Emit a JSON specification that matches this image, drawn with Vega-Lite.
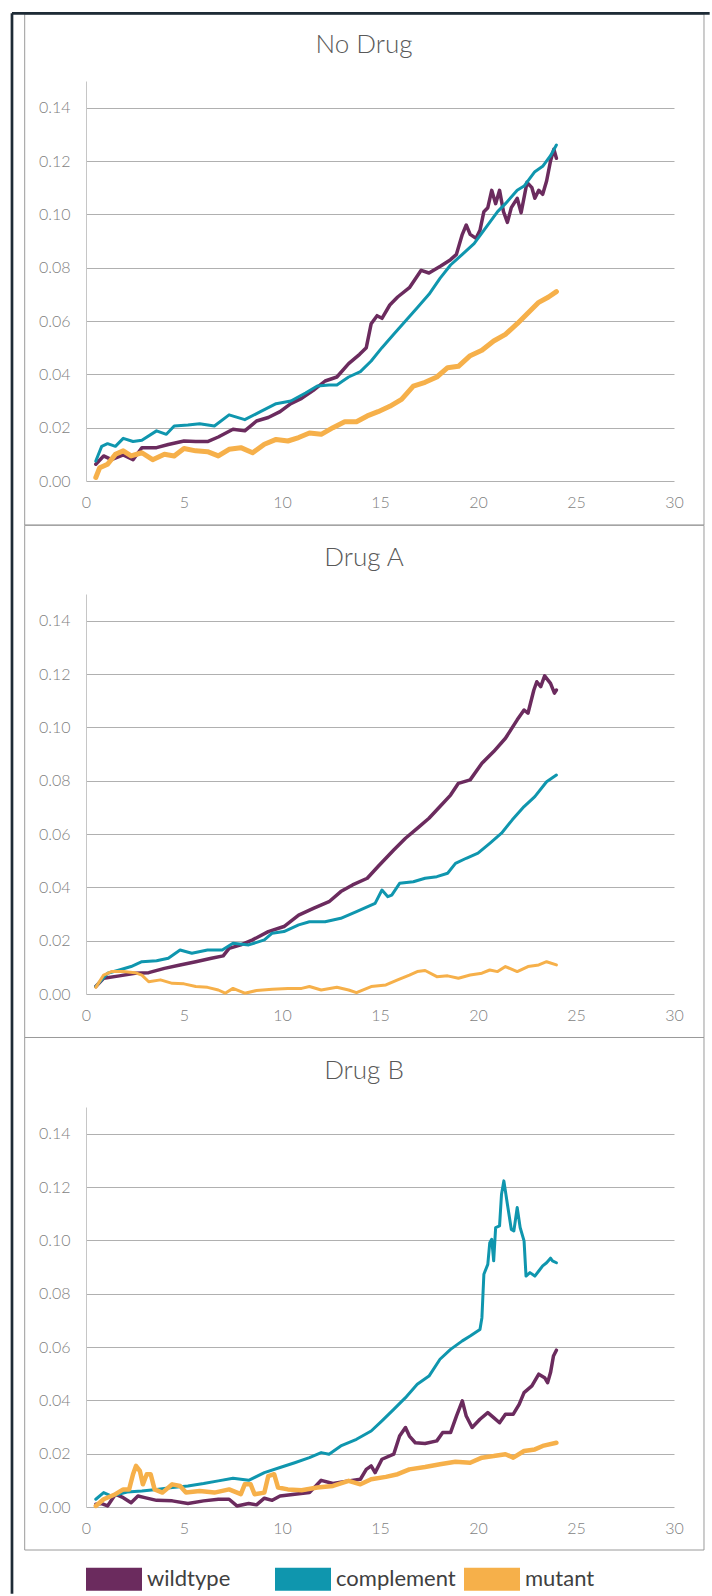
{
  "$schema": "https://vega.github.io/schema/vega-lite/v6.json",
  "background": "white",
  "padding": {"left": 10, "top": 11, "right": 0, "bottom": 0},
  "autosize": {"type": "pad"},
  "bounds": "flush",
  "spacing": 113,
  "resolve": {"scale": {"color": "shared"}, "legend": {"color": "shared"}},
  "config": {
    "view": {"stroke": null},
    "font": "Lato",
    "axis": {"labelFont": "Lato", "labelFontSize": 16, "labelColor": "#7f7f7f", "labelFontWeight": 300, "ticks": false},
    "axisX": {"grid": false, "domain": false, "labelPadding": 21, "labelBaseline": "middle", "labelFlush": false},
    "axisY": {"grid": true, "gridColor": "#b0b0b0", "gridWidth": 1, "domain": true, "domainColor": "#c6c6c6", "labelPadding": 16},
    "title": {"font": "Lato", "fontSize": 26, "fontWeight": 300, "color": "#595959", "anchor": "middle", "frame": "group", "baseline": "alphabetic", "dx": -16}
  },
  "datasets": {
    "nodrug": [
      {"s":"wildtype","t":0.5,"v":0.0063},{"s":"wildtype","t":0.9,"v":0.0094},{"s":"wildtype","t":1.3,"v":0.008},{"s":"wildtype","t":1.9,"v":0.0098},{"s":"wildtype","t":2.4,"v":0.008},{"s":"wildtype","t":2.85,"v":0.0125},{"s":"wildtype","t":3.6,"v":0.0125},{"s":"wildtype","t":4.2,"v":0.0137},{"s":"wildtype","t":5.0,"v":0.015},{"s":"wildtype","t":5.6,"v":0.0148},{"s":"wildtype","t":6.2,"v":0.0148},{"s":"wildtype","t":6.75,"v":0.0165},{"s":"wildtype","t":7.5,"v":0.0194},{"s":"wildtype","t":8.1,"v":0.0188},{"s":"wildtype","t":8.7,"v":0.0225},{"s":"wildtype","t":9.3,"v":0.0238},{"s":"wildtype","t":9.9,"v":0.026},{"s":"wildtype","t":10.45,"v":0.029},{"s":"wildtype","t":11.0,"v":0.031},{"s":"wildtype","t":11.6,"v":0.034},{"s":"wildtype","t":12.2,"v":0.0375},{"s":"wildtype","t":12.8,"v":0.039},{"s":"wildtype","t":13.4,"v":0.044},{"s":"wildtype","t":13.96,"v":0.0475},{"s":"wildtype","t":14.3,"v":0.05},{"s":"wildtype","t":14.55,"v":0.059},{"s":"wildtype","t":14.85,"v":0.062},{"s":"wildtype","t":15.1,"v":0.061},{"s":"wildtype","t":15.5,"v":0.066},{"s":"wildtype","t":15.9,"v":0.069},{"s":"wildtype","t":16.5,"v":0.0725},{"s":"wildtype","t":17.1,"v":0.079},{"s":"wildtype","t":17.5,"v":0.078},{"s":"wildtype","t":18.1,"v":0.0806},{"s":"wildtype","t":18.6,"v":0.083},{"s":"wildtype","t":18.9,"v":0.085},{"s":"wildtype","t":19.2,"v":0.0925},{"s":"wildtype","t":19.4,"v":0.096},{"s":"wildtype","t":19.6,"v":0.0925},{"s":"wildtype","t":19.9,"v":0.091},{"s":"wildtype","t":20.1,"v":0.094},{"s":"wildtype","t":20.3,"v":0.101},{"s":"wildtype","t":20.5,"v":0.1025},{"s":"wildtype","t":20.7,"v":0.109},{"s":"wildtype","t":20.9,"v":0.104},{"s":"wildtype","t":21.1,"v":0.109},{"s":"wildtype","t":21.3,"v":0.101},{"s":"wildtype","t":21.5,"v":0.097},{"s":"wildtype","t":21.7,"v":0.1025},{"s":"wildtype","t":22.0,"v":0.106},{"s":"wildtype","t":22.2,"v":0.1006},{"s":"wildtype","t":22.5,"v":0.112},{"s":"wildtype","t":22.75,"v":0.11},{"s":"wildtype","t":22.9,"v":0.106},{"s":"wildtype","t":23.1,"v":0.109},{"s":"wildtype","t":23.3,"v":0.1075},{"s":"wildtype","t":23.5,"v":0.1125},{"s":"wildtype","t":23.7,"v":0.12},{"s":"wildtype","t":23.87,"v":0.1244},{"s":"wildtype","t":24.0,"v":0.121},
      {"s":"complement","t":0.5,"v":0.0075},{"s":"complement","t":0.8,"v":0.013},{"s":"complement","t":1.1,"v":0.014},{"s":"complement","t":1.5,"v":0.013},{"s":"complement","t":1.9,"v":0.016},{"s":"complement","t":2.4,"v":0.0148},{"s":"complement","t":2.85,"v":0.0153},{"s":"complement","t":3.6,"v":0.0188},{"s":"complement","t":4.1,"v":0.0175},{"s":"complement","t":4.5,"v":0.0206},{"s":"complement","t":5.2,"v":0.021},{"s":"complement","t":5.8,"v":0.0215},{"s":"complement","t":6.55,"v":0.0206},{"s":"complement","t":7.3,"v":0.0248},{"s":"complement","t":8.1,"v":0.023},{"s":"complement","t":8.9,"v":0.026},{"s":"complement","t":9.7,"v":0.029},{"s":"complement","t":10.45,"v":0.03},{"s":"complement","t":11.2,"v":0.033},{"s":"complement","t":11.8,"v":0.0356},{"s":"complement","t":12.4,"v":0.036},{"s":"complement","t":12.8,"v":0.036},{"s":"complement","t":13.4,"v":0.039},{"s":"complement","t":14.0,"v":0.041},{"s":"complement","t":14.55,"v":0.045},{"s":"complement","t":15.1,"v":0.05},{"s":"complement","t":15.7,"v":0.055},{"s":"complement","t":16.3,"v":0.06},{"s":"complement","t":16.9,"v":0.065},{"s":"complement","t":17.5,"v":0.07},{"s":"complement","t":18.06,"v":0.076},{"s":"complement","t":18.6,"v":0.081},{"s":"complement","t":19.2,"v":0.085},{"s":"complement","t":19.8,"v":0.089},{"s":"complement","t":20.4,"v":0.095},{"s":"complement","t":21.0,"v":0.101},{"s":"complement","t":21.4,"v":0.104},{"s":"complement","t":22.0,"v":0.109},{"s":"complement","t":22.35,"v":0.1106},{"s":"complement","t":22.9,"v":0.116},{"s":"complement","t":23.3,"v":0.118},{"s":"complement","t":23.7,"v":0.122},{"s":"complement","t":24.0,"v":0.126},
      {"s":"mutant","t":0.5,"v":0.0013},{"s":"mutant","t":0.7,"v":0.005},{"s":"mutant","t":1.1,"v":0.0063},{"s":"mutant","t":1.5,"v":0.01},{"s":"mutant","t":1.9,"v":0.0113},{"s":"mutant","t":2.3,"v":0.0094},{"s":"mutant","t":2.85,"v":0.0106},{"s":"mutant","t":3.4,"v":0.008},{"s":"mutant","t":4.0,"v":0.01},{"s":"mutant","t":4.5,"v":0.0094},{"s":"mutant","t":5.0,"v":0.0122},{"s":"mutant","t":5.6,"v":0.0113},{"s":"mutant","t":6.2,"v":0.011},{"s":"mutant","t":6.75,"v":0.0094},{"s":"mutant","t":7.3,"v":0.0119},{"s":"mutant","t":7.9,"v":0.0125},{"s":"mutant","t":8.5,"v":0.0106},{"s":"mutant","t":9.1,"v":0.0138},{"s":"mutant","t":9.7,"v":0.0156},{"s":"mutant","t":10.3,"v":0.015},{"s":"mutant","t":10.85,"v":0.0163},{"s":"mutant","t":11.4,"v":0.018},{"s":"mutant","t":12.0,"v":0.0175},{"s":"mutant","t":12.6,"v":0.02},{"s":"mutant","t":13.2,"v":0.0222},{"s":"mutant","t":13.8,"v":0.0222},{"s":"mutant","t":14.35,"v":0.0244},{"s":"mutant","t":14.9,"v":0.026},{"s":"mutant","t":15.5,"v":0.028},{"s":"mutant","t":16.1,"v":0.0306},{"s":"mutant","t":16.7,"v":0.0356},{"s":"mutant","t":17.3,"v":0.037},{"s":"mutant","t":17.9,"v":0.039},{"s":"mutant","t":18.45,"v":0.0425},{"s":"mutant","t":19.0,"v":0.043},{"s":"mutant","t":19.6,"v":0.047},{"s":"mutant","t":20.2,"v":0.049},{"s":"mutant","t":20.8,"v":0.0525},{"s":"mutant","t":21.4,"v":0.055},{"s":"mutant","t":22.0,"v":0.059},{"s":"mutant","t":22.55,"v":0.063},{"s":"mutant","t":23.1,"v":0.067},{"s":"mutant","t":23.6,"v":0.069},{"s":"mutant","t":24.0,"v":0.071}
    ],
    "druga": [
      {"s":"wildtype","t":0.5,"v":0.0028},{"s":"wildtype","t":0.9,"v":0.0059},{"s":"wildtype","t":1.7,"v":0.0068},{"s":"wildtype","t":2.5,"v":0.0078},{"s":"wildtype","t":3.2,"v":0.008},{"s":"wildtype","t":4.0,"v":0.0096},{"s":"wildtype","t":4.8,"v":0.0109},{"s":"wildtype","t":5.6,"v":0.0121},{"s":"wildtype","t":6.4,"v":0.0134},{"s":"wildtype","t":7.0,"v":0.0143},{"s":"wildtype","t":7.3,"v":0.0171},{"s":"wildtype","t":7.9,"v":0.0184},{"s":"wildtype","t":8.5,"v":0.0203},{"s":"wildtype","t":9.3,"v":0.0234},{"s":"wildtype","t":10.1,"v":0.0253},{"s":"wildtype","t":10.85,"v":0.0296},{"s":"wildtype","t":11.6,"v":0.0321},{"s":"wildtype","t":12.4,"v":0.0346},{"s":"wildtype","t":13.0,"v":0.0384},{"s":"wildtype","t":13.6,"v":0.0409},{"s":"wildtype","t":14.35,"v":0.0434},{"s":"wildtype","t":14.9,"v":0.0478},{"s":"wildtype","t":15.7,"v":0.054},{"s":"wildtype","t":16.3,"v":0.0584},{"s":"wildtype","t":16.9,"v":0.0621},{"s":"wildtype","t":17.5,"v":0.0659},{"s":"wildtype","t":18.06,"v":0.0703},{"s":"wildtype","t":18.6,"v":0.0746},{"s":"wildtype","t":19.0,"v":0.079},{"s":"wildtype","t":19.6,"v":0.0803},{"s":"wildtype","t":20.2,"v":0.0865},{"s":"wildtype","t":20.8,"v":0.0909},{"s":"wildtype","t":21.4,"v":0.0959},{"s":"wildtype","t":22.0,"v":0.1028},{"s":"wildtype","t":22.35,"v":0.1065},{"s":"wildtype","t":22.55,"v":0.1053},{"s":"wildtype","t":22.85,"v":0.114},{"s":"wildtype","t":23.0,"v":0.1171},{"s":"wildtype","t":23.2,"v":0.1153},{"s":"wildtype","t":23.4,"v":0.1193},{"s":"wildtype","t":23.7,"v":0.1165},{"s":"wildtype","t":23.9,"v":0.1128},{"s":"wildtype","t":24.0,"v":0.114},
      {"s":"complement","t":0.5,"v":0.0028},{"s":"complement","t":1.1,"v":0.0078},{"s":"complement","t":1.7,"v":0.009},{"s":"complement","t":2.3,"v":0.0103},{"s":"complement","t":2.85,"v":0.0121},{"s":"complement","t":3.6,"v":0.0125},{"s":"complement","t":4.2,"v":0.0134},{"s":"complement","t":4.8,"v":0.0165},{"s":"complement","t":5.4,"v":0.0153},{"s":"complement","t":6.2,"v":0.0165},{"s":"complement","t":6.95,"v":0.0165},{"s":"complement","t":7.5,"v":0.019},{"s":"complement","t":8.3,"v":0.0184},{"s":"complement","t":9.1,"v":0.0203},{"s":"complement","t":9.5,"v":0.0228},{"s":"complement","t":10.1,"v":0.0234},{"s":"complement","t":10.85,"v":0.0259},{"s":"complement","t":11.4,"v":0.0271},{"s":"complement","t":12.2,"v":0.0271},{"s":"complement","t":13.0,"v":0.0284},{"s":"complement","t":13.8,"v":0.0309},{"s":"complement","t":14.75,"v":0.034},{"s":"complement","t":15.1,"v":0.039},{"s":"complement","t":15.4,"v":0.0365},{"s":"complement","t":15.6,"v":0.0371},{"s":"complement","t":16.0,"v":0.0415},{"s":"complement","t":16.7,"v":0.0421},{"s":"complement","t":17.3,"v":0.0434},{"s":"complement","t":17.9,"v":0.044},{"s":"complement","t":18.45,"v":0.0453},{"s":"complement","t":18.85,"v":0.049},{"s":"complement","t":19.4,"v":0.0509},{"s":"complement","t":20.0,"v":0.0528},{"s":"complement","t":20.6,"v":0.0565},{"s":"complement","t":21.2,"v":0.0603},{"s":"complement","t":21.75,"v":0.0653},{"s":"complement","t":22.35,"v":0.0703},{"s":"complement","t":22.9,"v":0.074},{"s":"complement","t":23.5,"v":0.0796},{"s":"complement","t":24.0,"v":0.0821},
      {"s":"mutant","t":0.5,"v":0.0025},{"s":"mutant","t":0.9,"v":0.0071},{"s":"mutant","t":1.3,"v":0.0084},{"s":"mutant","t":1.9,"v":0.0084},{"s":"mutant","t":2.5,"v":0.008},{"s":"mutant","t":2.85,"v":0.0071},{"s":"mutant","t":3.2,"v":0.0046},{"s":"mutant","t":3.8,"v":0.0053},{"s":"mutant","t":4.4,"v":0.004},{"s":"mutant","t":5.0,"v":0.0038},{"s":"mutant","t":5.6,"v":0.0028},{"s":"mutant","t":6.2,"v":0.0025},{"s":"mutant","t":6.75,"v":0.0015},{"s":"mutant","t":7.1,"v":0.0003},{"s":"mutant","t":7.5,"v":0.0021},{"s":"mutant","t":8.1,"v":0.0003},{"s":"mutant","t":8.7,"v":0.0013},{"s":"mutant","t":9.5,"v":0.0018},{"s":"mutant","t":10.3,"v":0.0021},{"s":"mutant","t":11.0,"v":0.0021},{"s":"mutant","t":11.4,"v":0.0028},{"s":"mutant","t":12.0,"v":0.0015},{"s":"mutant","t":12.8,"v":0.0025},{"s":"mutant","t":13.4,"v":0.0015},{"s":"mutant","t":13.8,"v":0.0005},{"s":"mutant","t":14.55,"v":0.0028},{"s":"mutant","t":15.3,"v":0.0034},{"s":"mutant","t":15.9,"v":0.0053},{"s":"mutant","t":16.5,"v":0.0071},{"s":"mutant","t":16.9,"v":0.0084},{"s":"mutant","t":17.3,"v":0.0088},{"s":"mutant","t":17.9,"v":0.0065},{"s":"mutant","t":18.45,"v":0.0068},{"s":"mutant","t":19.0,"v":0.0059},{"s":"mutant","t":19.6,"v":0.0071},{"s":"mutant","t":20.2,"v":0.0078},{"s":"mutant","t":20.6,"v":0.009},{"s":"mutant","t":21.0,"v":0.0084},{"s":"mutant","t":21.4,"v":0.0103},{"s":"mutant","t":22.0,"v":0.0084},{"s":"mutant","t":22.55,"v":0.0103},{"s":"mutant","t":23.1,"v":0.0109},{"s":"mutant","t":23.5,"v":0.0121},{"s":"mutant","t":24.0,"v":0.0109}
    ],
    "drugb": [
      {"s":"wildtype","t":0.5,"v":0.001},{"s":"wildtype","t":0.8,"v":0.0013},{"s":"wildtype","t":1.1,"v":0.0004},{"s":"wildtype","t":1.5,"v":0.0048},{"s":"wildtype","t":1.9,"v":0.0035},{"s":"wildtype","t":2.3,"v":0.0016},{"s":"wildtype","t":2.65,"v":0.0041},{"s":"wildtype","t":3.0,"v":0.0035},{"s":"wildtype","t":3.6,"v":0.0025},{"s":"wildtype","t":4.4,"v":0.0023},{"s":"wildtype","t":5.2,"v":0.0013},{"s":"wildtype","t":6.0,"v":0.0023},{"s":"wildtype","t":6.75,"v":0.0029},{"s":"wildtype","t":7.3,"v":0.0029},{"s":"wildtype","t":7.7,"v":0.0004},{"s":"wildtype","t":8.3,"v":0.0013},{"s":"wildtype","t":8.7,"v":0.0008},{"s":"wildtype","t":9.1,"v":0.0033},{"s":"wildtype","t":9.5,"v":0.0025},{"s":"wildtype","t":9.9,"v":0.0041},{"s":"wildtype","t":10.65,"v":0.0048},{"s":"wildtype","t":11.4,"v":0.0054},{"s":"wildtype","t":12.0,"v":0.01},{"s":"wildtype","t":12.6,"v":0.0088},{"s":"wildtype","t":13.4,"v":0.0098},{"s":"wildtype","t":14.0,"v":0.0104},{"s":"wildtype","t":14.3,"v":0.0141},{"s":"wildtype","t":14.55,"v":0.0154},{"s":"wildtype","t":14.75,"v":0.0129},{"s":"wildtype","t":15.1,"v":0.0179},{"s":"wildtype","t":15.7,"v":0.0198},{"s":"wildtype","t":16.0,"v":0.0266},{"s":"wildtype","t":16.3,"v":0.0298},{"s":"wildtype","t":16.5,"v":0.0266},{"s":"wildtype","t":16.8,"v":0.0241},{"s":"wildtype","t":17.3,"v":0.0238},{"s":"wildtype","t":17.9,"v":0.0248},{"s":"wildtype","t":18.2,"v":0.0279},{"s":"wildtype","t":18.6,"v":0.0279},{"s":"wildtype","t":18.9,"v":0.0341},{"s":"wildtype","t":19.2,"v":0.0398},{"s":"wildtype","t":19.4,"v":0.0341},{"s":"wildtype","t":19.7,"v":0.0298},{"s":"wildtype","t":20.1,"v":0.0329},{"s":"wildtype","t":20.5,"v":0.0354},{"s":"wildtype","t":20.8,"v":0.0335},{"s":"wildtype","t":21.1,"v":0.0316},{"s":"wildtype","t":21.4,"v":0.0348},{"s":"wildtype","t":21.8,"v":0.0348},{"s":"wildtype","t":22.1,"v":0.0385},{"s":"wildtype","t":22.35,"v":0.0429},{"s":"wildtype","t":22.75,"v":0.0454},{"s":"wildtype","t":23.1,"v":0.0498},{"s":"wildtype","t":23.4,"v":0.0485},{"s":"wildtype","t":23.55,"v":0.0466},{"s":"wildtype","t":23.7,"v":0.0504},{"s":"wildtype","t":23.85,"v":0.0566},{"s":"wildtype","t":24.0,"v":0.0588},
      {"s":"complement","t":0.5,"v":0.0029},{"s":"complement","t":0.9,"v":0.0054},{"s":"complement","t":1.3,"v":0.0041},{"s":"complement","t":2.1,"v":0.0056},{"s":"complement","t":2.85,"v":0.006},{"s":"complement","t":3.6,"v":0.0066},{"s":"complement","t":4.4,"v":0.0073},{"s":"complement","t":5.2,"v":0.0079},{"s":"complement","t":6.0,"v":0.0088},{"s":"complement","t":6.75,"v":0.0098},{"s":"complement","t":7.5,"v":0.0108},{"s":"complement","t":8.3,"v":0.01},{"s":"complement","t":9.1,"v":0.0129},{"s":"complement","t":9.9,"v":0.0148},{"s":"complement","t":10.65,"v":0.0166},{"s":"complement","t":11.4,"v":0.0185},{"s":"complement","t":12.0,"v":0.0204},{"s":"complement","t":12.4,"v":0.0198},{"s":"complement","t":13.0,"v":0.0229},{"s":"complement","t":13.8,"v":0.0254},{"s":"complement","t":14.55,"v":0.0285},{"s":"complement","t":15.1,"v":0.0323},{"s":"complement","t":15.7,"v":0.0366},{"s":"complement","t":16.3,"v":0.041},{"s":"complement","t":16.9,"v":0.046},{"s":"complement","t":17.5,"v":0.0491},{"s":"complement","t":18.06,"v":0.0554},{"s":"complement","t":18.6,"v":0.0591},{"s":"complement","t":19.2,"v":0.0623},{"s":"complement","t":19.6,"v":0.0641},{"s":"complement","t":20.1,"v":0.0666},{"s":"complement","t":20.2,"v":0.071},{"s":"complement","t":20.3,"v":0.0873},{"s":"complement","t":20.5,"v":0.091},{"s":"complement","t":20.6,"v":0.0991},{"s":"complement","t":20.7,"v":0.1004},{"s":"complement","t":20.8,"v":0.0923},{"s":"complement","t":20.9,"v":0.1048},{"s":"complement","t":21.1,"v":0.1054},{"s":"complement","t":21.2,"v":0.1173},{"s":"complement","t":21.32,"v":0.1223},{"s":"complement","t":21.5,"v":0.1135},{"s":"complement","t":21.7,"v":0.1041},{"s":"complement","t":21.83,"v":0.1035},{"s":"complement","t":22.0,"v":0.1123},{"s":"complement","t":22.15,"v":0.1048},{"s":"complement","t":22.35,"v":0.0998},{"s":"complement","t":22.45,"v":0.0866},{"s":"complement","t":22.65,"v":0.0879},{"s":"complement","t":22.9,"v":0.0866},{"s":"complement","t":23.1,"v":0.0885},{"s":"complement","t":23.3,"v":0.0904},{"s":"complement","t":23.5,"v":0.0916},{"s":"complement","t":23.7,"v":0.0933},{"s":"complement","t":23.8,"v":0.0923},{"s":"complement","t":24.0,"v":0.0916},
      {"s":"mutant","t":0.5,"v":0.0004},{"s":"mutant","t":0.9,"v":0.0029},{"s":"mutant","t":1.5,"v":0.0048},{"s":"mutant","t":1.9,"v":0.0066},{"s":"mutant","t":2.2,"v":0.0066},{"s":"mutant","t":2.4,"v":0.0123},{"s":"mutant","t":2.55,"v":0.0154},{"s":"mutant","t":2.75,"v":0.0135},{"s":"mutant","t":2.9,"v":0.0085},{"s":"mutant","t":3.1,"v":0.0123},{"s":"mutant","t":3.3,"v":0.0123},{"s":"mutant","t":3.5,"v":0.0066},{"s":"mutant","t":3.9,"v":0.0054},{"s":"mutant","t":4.4,"v":0.0085},{"s":"mutant","t":4.8,"v":0.0079},{"s":"mutant","t":5.1,"v":0.0054},{"s":"mutant","t":5.8,"v":0.006},{"s":"mutant","t":6.55,"v":0.0054},{"s":"mutant","t":7.3,"v":0.0066},{"s":"mutant","t":7.9,"v":0.0048},{"s":"mutant","t":8.1,"v":0.0085},{"s":"mutant","t":8.4,"v":0.0085},{"s":"mutant","t":8.6,"v":0.0048},{"s":"mutant","t":9.1,"v":0.0054},{"s":"mutant","t":9.3,"v":0.0116},{"s":"mutant","t":9.6,"v":0.0123},{"s":"mutant","t":9.8,"v":0.0073},{"s":"mutant","t":10.3,"v":0.0066},{"s":"mutant","t":11.0,"v":0.0063},{"s":"mutant","t":11.8,"v":0.0073},{"s":"mutant","t":12.6,"v":0.0079},{"s":"mutant","t":13.4,"v":0.0098},{"s":"mutant","t":14.0,"v":0.0085},{"s":"mutant","t":14.55,"v":0.0104},{"s":"mutant","t":15.3,"v":0.0113},{"s":"mutant","t":15.9,"v":0.0123},{"s":"mutant","t":16.5,"v":0.0141},{"s":"mutant","t":17.3,"v":0.015},{"s":"mutant","t":18.06,"v":0.016},{"s":"mutant","t":18.85,"v":0.017},{"s":"mutant","t":19.6,"v":0.0166},{"s":"mutant","t":20.2,"v":0.0185},{"s":"mutant","t":20.8,"v":0.0191},{"s":"mutant","t":21.4,"v":0.0198},{"s":"mutant","t":21.8,"v":0.0185},{"s":"mutant","t":22.35,"v":0.021},{"s":"mutant","t":22.9,"v":0.0216},{"s":"mutant","t":23.3,"v":0.0229},{"s":"mutant","t":24.0,"v":0.0241}
    ]
  },
  "vconcat": [
    {
      "title": {"text": "No Drug", "offset": -46},
      "width": 588, "height": 400,
      "data": {"name": "nodrug"},
      "encoding": {
        "x": {"field": "t", "type": "quantitative", "scale": {"domain": [0, 30], "nice": false}, "axis": {"title": null, "values": [0, 5, 10, 15, 20, 25, 30]}},
        "y": {"field": "v", "type": "quantitative", "scale": {"domain": [0, 0.15], "nice": false}, "axis": {"title": null, "values": [0, 0.02, 0.04, 0.06, 0.08, 0.1, 0.12, 0.14], "format": ".2f"}},
        "color": {"field": "s", "type": "nominal", "scale": {"domain": ["wildtype", "complement", "mutant"], "range": ["#6b2b5e", "#0f96ae", "#f6b04a"]},
          "legend": {"orient": "none", "legendX": 0, "legendY": 1484, "direction": "horizontal", "title": null, "padding": 0, "symbolType": "M-1,-0.82L3,-0.82L3,0.82L-1,0.82Z", "symbolSize": 784, "symbolStrokeWidth": 0, "symbolOpacity": 1, "labelFont": "Lato", "labelFontSize": 22, "labelFontWeight": 400, "labelColor": "#404040", "labelOffset": 33, "columnPadding": 8, "gridAlign": "all",
            "encode": {"symbols": {"update": {"fill": {"scale": "color", "field": "value"}, "strokeWidth": {"value": 0}, "opacity": {"value": 1}}}}}}
      },
      "layer": [
        {"transform": [{"filter": "datum.s === 'wildtype' && datum.t === 0.5"}], "mark": {"type": "rect", "fill": null, "stroke": "#9a9a9a", "strokeWidth": 1}, "encoding": {"x": {"datum": -3.128, "type": "quantitative", "scale": {"domain": [0, 30], "nice": false}, "axis": {"title": null, "values": [0, 5, 10, 15, 20, 25, 30]}}, "x2": {"datum": 31.53}, "y": {"datum": 0.17513, "type": "quantitative", "scale": {"domain": [0, 0.15], "nice": false}, "axis": {"title": null, "values": [0, 0.02, 0.04, 0.06, 0.08, 0.1, 0.12, 0.14], "format": ".2f"}}, "y2": {"datum": -0.0165}, "color": {"value": null}}},
        {"transform": [{"filter": "datum.s === 'wildtype' && datum.t === 0.5"}], "mark": {"type": "rule", "stroke": "#1e2b36", "strokeWidth": 2.7}, "encoding": {"x": {"datum": -3.776, "type": "quantitative", "scale": {"domain": [0, 30], "nice": false}, "axis": {"title": null, "values": [0, 5, 10, 15, 20, 25, 30]}}, "y": {"datum": 0.17539, "type": "quantitative", "scale": {"domain": [0, 0.15], "nice": false}, "axis": {"title": null, "values": [0, 0.02, 0.04, 0.06, 0.08, 0.1, 0.12, 0.14], "format": ".2f"}}, "y2": {"datum": -0.41726}, "color": {"value": "#1e2b36"}}},
        {"transform": [{"filter": "datum.s === 'wildtype' && datum.t === 0.5"}], "mark": {"type": "rule", "stroke": "#1e2b36", "strokeWidth": 2.7}, "encoding": {"x": {"datum": -3.776, "type": "quantitative", "scale": {"domain": [0, 30], "nice": false}, "axis": {"title": null, "values": [0, 5, 10, 15, 20, 25, 30]}}, "x2": {"datum": 31.82}, "y": {"datum": 0.17539, "type": "quantitative", "scale": {"domain": [0, 0.15], "nice": false}, "axis": {"title": null, "values": [0, 0.02, 0.04, 0.06, 0.08, 0.1, 0.12, 0.14], "format": ".2f"}}, "color": {"value": "#1e2b36"}}},
        {"transform": [{"filter": "datum.s === 'wildtype'"}], "mark": {"type": "line", "strokeWidth": 3.5, "strokeJoin": "round", "strokeCap": "round"}},
        {"transform": [{"filter": "datum.s === 'complement'"}], "mark": {"type": "line", "strokeWidth": 3, "strokeJoin": "round", "strokeCap": "round"}},
        {"transform": [{"filter": "datum.s === 'mutant'"}], "mark": {"type": "line", "strokeWidth": 5, "strokeJoin": "round", "strokeCap": "round"}}
      ]
    },
    {
      "title": {"text": "Drug A", "offset": -46.2},
      "width": 588, "height": 400,
      "data": {"name": "druga"},
      "encoding": {
        "x": {"field": "t", "type": "quantitative", "scale": {"domain": [0, 30], "nice": false}, "axis": {"title": null, "values": [0, 5, 10, 15, 20, 25, 30]}},
        "y": {"field": "v", "type": "quantitative", "scale": {"domain": [0, 0.15], "nice": false}, "axis": {"title": null, "values": [0, 0.02, 0.04, 0.06, 0.08, 0.1, 0.12, 0.14], "format": ".2f"}},
        "color": {"field": "s", "type": "nominal", "scale": {"domain": ["wildtype", "complement", "mutant"], "range": ["#6b2b5e", "#0f96ae", "#f6b04a"]},
          "legend": {"orient": "none", "legendX": 0, "legendY": 1484, "direction": "horizontal", "title": null, "padding": 0, "symbolType": "M-1,-0.82L3,-0.82L3,0.82L-1,0.82Z", "symbolSize": 784, "symbolStrokeWidth": 0, "symbolOpacity": 1, "labelFont": "Lato", "labelFontSize": 22, "labelFontWeight": 400, "labelColor": "#404040", "labelOffset": 33, "columnPadding": 8, "gridAlign": "all",
            "encode": {"symbols": {"update": {"fill": {"scale": "color", "field": "value"}, "strokeWidth": {"value": 0}, "opacity": {"value": 1}}}}}}
      },
      "layer": [
        {"transform": [{"filter": "datum.s === 'wildtype' && datum.t === 0.5"}], "mark": {"type": "rect", "fill": null, "stroke": "#9a9a9a", "strokeWidth": 1}, "encoding": {"x": {"datum": -3.128, "type": "quantitative", "scale": {"domain": [0, 30], "nice": false}, "axis": {"title": null, "values": [0, 5, 10, 15, 20, 25, 30]}}, "x2": {"datum": 31.53}, "y": {"datum": 0.17576, "type": "quantitative", "scale": {"domain": [0, 0.15], "nice": false}, "axis": {"title": null, "values": [0, 0.02, 0.04, 0.06, 0.08, 0.1, 0.12, 0.14], "format": ".2f"}}, "y2": {"datum": -0.01631}, "color": {"value": null}}},
        {"transform": [{"filter": "datum.s === 'wildtype'"}], "mark": {"type": "line", "strokeWidth": 3.5, "strokeJoin": "round", "strokeCap": "round"}},
        {"transform": [{"filter": "datum.s === 'complement'"}], "mark": {"type": "line", "strokeWidth": 3, "strokeJoin": "round", "strokeCap": "round"}},
        {"transform": [{"filter": "datum.s === 'mutant'"}], "mark": {"type": "line", "strokeWidth": 3, "strokeJoin": "round", "strokeCap": "round"}}
      ]
    },
    {
      "title": {"text": "Drug B", "offset": -47},
      "width": 588, "height": 400,
      "data": {"name": "drugb"},
      "encoding": {
        "x": {"field": "t", "type": "quantitative", "scale": {"domain": [0, 30], "nice": false}, "axis": {"title": null, "values": [0, 5, 10, 15, 20, 25, 30]}},
        "y": {"field": "v", "type": "quantitative", "scale": {"domain": [0, 0.15], "nice": false}, "axis": {"title": null, "values": [0, 0.02, 0.04, 0.06, 0.08, 0.1, 0.12, 0.14], "format": ".2f"}},
        "color": {"field": "s", "type": "nominal", "scale": {"domain": ["wildtype", "complement", "mutant"], "range": ["#6b2b5e", "#0f96ae", "#f6b04a"]},
          "legend": {"orient": "none", "legendX": 0, "legendY": 1484, "direction": "horizontal", "title": null, "padding": 0, "symbolType": "M-1,-0.82L3,-0.82L3,0.82L-1,0.82Z", "symbolSize": 784, "symbolStrokeWidth": 0, "symbolOpacity": 1, "labelFont": "Lato", "labelFontSize": 22, "labelFontWeight": 400, "labelColor": "#404040", "labelOffset": 33, "columnPadding": 8, "gridAlign": "all",
            "encode": {"symbols": {"update": {"fill": {"scale": "color", "field": "value"}, "strokeWidth": {"value": 0}, "opacity": {"value": 1}}}}}}
      },
      "layer": [
        {"transform": [{"filter": "datum.s === 'wildtype' && datum.t === 0.5"}], "mark": {"type": "rect", "fill": null, "stroke": "#9a9a9a", "strokeWidth": 1}, "encoding": {"x": {"datum": -3.128, "type": "quantitative", "scale": {"domain": [0, 30], "nice": false}, "axis": {"title": null, "values": [0, 5, 10, 15, 20, 25, 30]}}, "x2": {"datum": 31.53}, "y": {"datum": 0.17606, "type": "quantitative", "scale": {"domain": [0, 0.15], "nice": false}, "axis": {"title": null, "values": [0, 0.02, 0.04, 0.06, 0.08, 0.1, 0.12, 0.14], "format": ".2f"}}, "y2": {"datum": -0.01613}, "color": {"value": null}}},
        {"transform": [{"filter": "datum.s === 'wildtype'"}], "mark": {"type": "line", "strokeWidth": 3.5, "strokeJoin": "round", "strokeCap": "round"}},
        {"transform": [{"filter": "datum.s === 'complement'"}], "mark": {"type": "line", "strokeWidth": 3, "strokeJoin": "round", "strokeCap": "round"}},
        {"transform": [{"filter": "datum.s === 'mutant'"}], "mark": {"type": "line", "strokeWidth": 4.5, "strokeJoin": "round", "strokeCap": "round"}}
      ]
    }
  ]
}
